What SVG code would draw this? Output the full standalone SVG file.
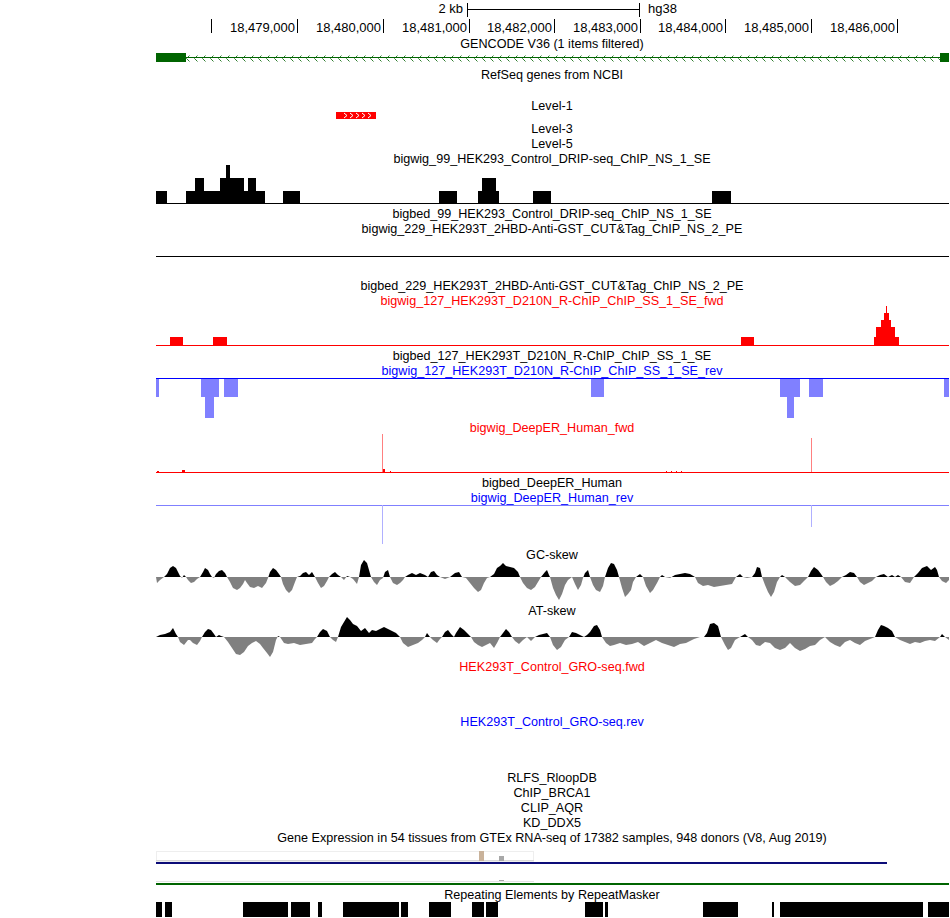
<svg xmlns="http://www.w3.org/2000/svg" width="950" height="918" viewBox="0 0 950 918">
<style>
text{font-family:"Liberation Sans",Arial,Helvetica,sans-serif;font-size:12.6px;fill:#000}
.c{text-anchor:middle}
.r{text-anchor:end}
.num{font-size:13px}
.red{fill:#f00}
.blue{fill:#00f}
.tick{stroke:#000;stroke-width:1}
.blk{fill:#000}
.gry{fill:#808080}
.lb{fill:#8080ff}
</style>
<defs>
<pattern id="chev" x="0" y="0" width="8" height="9" patternUnits="userSpaceOnUse">
<path d="M5.5,1.5 L2.5,4.5 L5.5,7.5" fill="none" stroke="#2e7d2e" stroke-width="1"/>
</pattern>
<clipPath id="gcUp"><rect x="150" y="540" width="800" height="37"/></clipPath>
<clipPath id="gcDn"><rect x="150" y="577" width="800" height="40"/></clipPath>
<clipPath id="atUp"><rect x="150" y="600" width="800" height="37"/></clipPath>
<clipPath id="atDn"><rect x="150" y="637" width="800" height="40"/></clipPath>
<path id="gcCurve" d="M156,577 L157,583 160,580 164,577 167,574 170,568 173,566 176,568 178,572 180,576 182,578 184,575 186,577 188,580 191,583 194,582 197,579 200,577 203,572 205,568 208,570 210,574 212,577 214,578 216,574 219,571 222,570 225,573 227,577 230,582 233,588 237,590 240,588 243,584 245,580 247,583 250,587 254,588 258,586 262,588 266,583 268,578 270,572 273,568 276,570 279,574 281,577 283,584 286,590 289,593 292,590 295,582 297,577 300,576 303,573 306,572 309,575 312,572 315,577 318,583 321,588 324,586 327,581 329,577 332,574 335,572 338,575 341,577 344,580 347,576 350,577 353,579 357,584 359,577 361,565 364,560 367,563 369,570 371,577 374,582 377,585 380,580 383,578 385,572 388,570 390,577 393,583 397,585 400,583 403,580 405,577 408,575 412,573 416,575 420,573 425,575 428,577 431,572 434,571 437,575 440,577 445,579 450,577 455,573 459,572 462,577 466,578 470,583 474,588 478,592 481,590 484,583 487,578 490,577 494,574 497,568 500,566 503,563 506,566 510,567 514,568 518,572 520,577 523,583 527,588 531,590 535,587 538,582 541,577 545,572 547,570 549,575 550,577 553,588 556,595 559,600 562,594 565,585 568,580 572,577 575,584 578,590 581,585 583,578 585,573 588,570 590,577 593,585 596,590 600,592 603,586 605,577 608,568 611,563 614,564 617,570 619,577 622,588 625,597 628,594 631,590 633,582 636,577 640,574 643,577 646,586 650,593 653,590 657,583 660,577 662,575 665,577 670,578 675,575 680,574 685,573 690,574 695,577 698,583 703,586 708,585 714,587 720,586 726,585 732,584 736,577 740,574 743,577 747,578 752,577 755,573 757,567 760,568 762,577 765,585 768,592 771,597 774,592 777,582 780,577 782,575 785,577 790,582 795,586 800,585 805,580 808,577 811,571 814,567 818,570 821,574 823,577 826,582 830,586 834,584 838,581 842,577 846,575 850,572 854,573 857,577 860,582 864,585 868,583 872,581 876,577 880,575 884,574 888,577 892,575 895,577 898,575 901,577 905,582 910,583 914,577 918,573 922,568 927,566 931,570 935,567 937,570 939,577 942,581 946,583 949,580 L949,577 Z"/>
<path id="atCurve" d="M156,637 L160,635 165,634 170,632 173,628 176,634 178,637 180,642 184,645 188,640 190,640 193,643 197,645 200,641 202,637 205,632 208,629 211,630 214,634 216,637 219,635 221,636 224,637 228,642 232,648 236,654 240,655 244,652 248,646 252,643 256,641 260,644 263,648 267,653 270,657 273,652 276,640 278,636 280,637 284,643 288,644 294,643 300,645 306,644 312,643 315,639 317,637 320,632 323,629 327,631 330,637 333,640 336,642 338,637 341,627 344,622 347,617 350,620 353,624 357,626 361,631 365,628 369,633 372,630 376,631 380,629 384,627 388,629 392,631 396,633 400,637 403,643 408,647 413,645 418,643 422,640 425,637 427,633 430,637 433,640 437,643 440,639 442,637 445,632 448,630 451,634 454,637 456,633 460,627 464,630 468,634 471,637 474,642 478,645 482,647 486,645 490,643 494,648 497,643 500,637 503,633 506,629 509,632 512,637 515,641 519,644 523,640 527,637 531,641 535,637 539,635 543,634 547,633 550,637 553,645 557,650 561,647 565,640 569,637 572,632 576,633 580,635 584,637 587,635 590,632 594,626 597,625 600,630 602,637 606,643 610,646 614,645 620,643 626,645 632,644 638,642 644,646 650,643 656,640 662,643 668,645 674,647 680,644 686,643 690,641 694,639 700,637 704,637 707,633 710,624 714,623 718,626 721,637 725,645 728,650 731,648 735,640 740,637 745,634 748,637 752,640 756,645 760,646 765,642 770,643 775,648 780,650 785,648 790,643 795,648 800,651 805,649 810,646 815,645 820,640 825,637 830,642 835,645 840,647 845,642 850,640 855,643 860,645 865,641 870,639 875,637 878,630 881,625 884,626 888,628 892,631 895,637 900,640 905,642 910,644 915,642 920,643 925,641 930,640 935,641 940,637 942,634 945,637 949,640 L949,637 Z"/>
</defs>
<rect width="950" height="918" fill="#fff"/>

<g id="ruler">
<text class="r num" x="463" y="13">2 kb</text>
<path d="M467.5,3 V17 M467.5,9.5 H639.5 M639.5,3 V17" stroke="#000" fill="none"/>
<text class="num" x="648" y="13">hg38</text>
<path class="tick" d="M211.5,19 V33 M297.5,19 V33 M383.5,19 V33 M469.5,19 V33 M554.5,19 V33 M640.5,19 V33 M725.5,19 V33 M811.5,19 V33 M897.5,19 V33"/>
<text class="r num" x="295" y="32">18,479,000</text>
<text class="r num" x="381" y="32">18,480,000</text>
<text class="r num" x="467" y="32">18,481,000</text>
<text class="r num" x="552" y="32">18,482,000</text>
<text class="r num" x="638" y="32">18,483,000</text>
<text class="r num" x="723" y="32">18,484,000</text>
<text class="r num" x="809" y="32">18,485,000</text>
<text class="r num" x="895" y="32">18,486,000</text>
</g>

<g id="gencode">
<text class="c" x="552" y="48">GENCODE V36 (1 items filtered)</text>
<rect x="186" y="53" width="754" height="9" fill="url(#chev)"/>
<rect x="186" y="57" width="754" height="1" fill="#006400"/>
<rect x="156" y="53" width="30" height="9" fill="#006400"/>
<rect x="940" y="53" width="9" height="9" fill="#006400"/>
</g>

<g id="refseq">
<text class="c" x="552" y="79">RefSeq genes from NCBI</text>
</g>

<g id="level1">
<text class="c" x="552" y="110">Level-1</text>
<rect x="336" y="112" width="40" height="7" fill="#f00"/>
<path d="M344,113 L347,115.5 L344,118 M350,113 L353,115.5 L350,118 M356,113 L359,115.5 L356,118 M362,113 L365,115.5 L362,118 M368,113 L371,115.5 L368,118" stroke="#fff" fill="none"/>
</g>

<g id="level3"><text class="c" x="552" y="133">Level-3</text></g>
<g id="level5"><text class="c" x="552" y="148">Level-5</text></g>

<g id="bigwig99">
<text class="c" x="552" y="163">bigwig_99_HEK293_Control_DRIP-seq_ChIP_NS_1_SE</text>
<g class="blk">
<rect x="156" y="191" width="11" height="13"/>
<rect x="186" y="191" width="79" height="13"/>
<rect x="195" y="178" width="9" height="13"/>
<rect x="220" y="178" width="24" height="13"/>
<rect x="226" y="165" width="4" height="13"/>
<rect x="248" y="178" width="8" height="13"/>
<rect x="283" y="191" width="17" height="13"/>
<rect x="439" y="191" width="18" height="13"/>
<rect x="478" y="191" width="21" height="13"/>
<rect x="482" y="178" width="14" height="13"/>
<rect x="533" y="191" width="18" height="13"/>
<rect x="712" y="191" width="19" height="13"/>
<rect x="156" y="203" width="793" height="1"/>
</g>
</g>

<g id="bigbed99"><text class="c" x="552" y="218">bigbed_99_HEK293_Control_DRIP-seq_ChIP_NS_1_SE</text></g>

<g id="bigwig229">
<text class="c" x="552" y="233">bigwig_229_HEK293T_2HBD-Anti-GST_CUT&amp;Tag_ChIP_NS_2_PE</text>
<rect x="156" y="256" width="793" height="1" fill="#000"/>
</g>

<g id="bigbed229"><text class="c" x="552" y="290">bigbed_229_HEK293T_2HBD-Anti-GST_CUT&amp;Tag_ChIP_NS_2_PE</text></g>

<g id="bigwig127fwd">
<text class="c red" x="552" y="305">bigwig_127_HEK293T_D210N_R-ChIP_ChIP_SS_1_SE_fwd</text>
<g fill="#f00">
<rect x="170" y="337" width="13" height="9"/>
<rect x="213" y="337" width="14" height="9"/>
<rect x="741" y="337" width="13" height="9"/>
<path d="M874,346 V337 H876 V327 H881 V320 H884 V313 H886 V306 H887 V313 H889 V320 H891 V327 H895 V337 H899 V346 Z"/>
<rect x="156" y="345" width="793" height="1"/>
</g>
</g>

<g id="bigbed127"><text class="c" x="552" y="360">bigbed_127_HEK293T_D210N_R-ChIP_ChIP_SS_1_SE</text></g>

<g id="bigwig127rev">
<text class="c blue" x="552" y="375">bigwig_127_HEK293T_D210N_R-ChIP_ChIP_SS_1_SE_rev</text>
<g class="lb">
<rect x="156" y="378" width="3" height="19"/>
<rect x="201" y="378" width="18" height="19"/>
<rect x="205" y="378" width="9" height="40"/>
<rect x="224" y="378" width="14" height="19"/>
<rect x="591" y="378" width="13" height="19"/>
<rect x="780" y="378" width="20" height="19"/>
<rect x="787" y="378" width="7" height="40"/>
<rect x="809" y="378" width="14" height="19"/>
<rect x="944" y="378" width="5" height="19"/>
</g>
<rect x="156" y="378" width="793" height="1" fill="#00f"/>
</g>

<g id="deeperfwd">
<text class="c red" x="552" y="432">bigwig_DeepER_Human_fwd</text>
<rect x="382" y="434" width="1" height="39" fill="#ff8080"/>
<rect x="811" y="438" width="1" height="35" fill="#ff8080"/>
<g fill="#f00">
<rect x="157" y="471" width="2" height="2"/>
<rect x="182" y="470" width="3" height="3"/>
<rect x="383" y="469" width="2" height="4"/>
<rect x="390" y="471" width="1" height="2"/>
<rect x="666" y="471" width="1" height="2"/>
<rect x="671" y="471" width="1" height="2"/>
<rect x="676" y="471" width="1" height="2"/>
<rect x="681" y="471" width="1" height="2"/>
<rect x="156" y="472" width="793" height="1"/>
</g>
</g>

<g id="bigbeddeeper"><text class="c" x="552" y="487">bigbed_DeepER_Human</text></g>

<g id="deeperrev">
<text class="c blue" x="552" y="502">bigwig_DeepER_Human_rev</text>
<rect x="156" y="505" width="793" height="1" fill="#8080ff"/>
<rect x="382" y="505" width="1" height="39" fill="#b0b0ff"/>
<rect x="811" y="505" width="1" height="22" fill="#b0b0ff"/>
</g>

<g id="gcskew">
<text class="c" x="552" y="559">GC-skew</text>
<use href="#gcCurve" class="blk" clip-path="url(#gcUp)"/>
<use href="#gcCurve" class="gry" clip-path="url(#gcDn)"/>
</g>

<g id="atskew">
<text class="c" x="552" y="615">AT-skew</text>
<use href="#atCurve" class="blk" clip-path="url(#atUp)"/>
<use href="#atCurve" class="gry" clip-path="url(#atDn)"/>
</g>

<g id="grofwd"><text class="c red" x="552" y="671">HEK293T_Control_GRO-seq.fwd</text></g>
<g id="grorev"><text class="c blue" x="552" y="726">HEK293T_Control_GRO-seq.rev</text></g>

<g id="rlfs"><text class="c" x="552" y="782">RLFS_RloopDB</text></g>
<g id="brca1"><text class="c" x="552" y="797">ChIP_BRCA1</text></g>
<g id="aqr"><text class="c" x="552" y="812">CLIP_AQR</text></g>
<g id="ddx5"><text class="c" x="552" y="827">KD_DDX5</text></g>

<g id="gtex">
<text class="c" x="552" y="842">Gene Expression in 54 tissues from GTEx RNA-seq of 17382 samples, 948 donors (V8, Aug 2019)</text>
<rect x="156.5" y="851.5" width="377" height="10" fill="none" stroke="#eeeeee"/>
<rect x="156" y="860" width="378" height="1" fill="#d8d8d8"/>
<rect x="479" y="851" width="5" height="10" fill="#c9b29a"/>
<rect x="499" y="856" width="5" height="5" fill="#a8a8a8"/>
<rect x="156" y="862" width="731" height="2" fill="#0c0c78"/>
<rect x="156" y="881" width="378" height="1" fill="#e4e4e4"/>
<rect x="499" y="880" width="5" height="1" fill="#a8a8a8"/>
<rect x="156" y="883" width="793" height="2" fill="#006400"/>
</g>

<g id="repeatmasker">
<text class="c" x="552" y="899">Repeating Elements by RepeatMasker</text>
<g class="blk">
<rect x="156" y="902" width="6" height="15"/>
<rect x="165" y="902" width="7" height="15"/>
<rect x="243" y="902" width="45" height="15"/>
<rect x="291" y="902" width="19" height="15"/>
<rect x="318" y="902" width="4" height="15"/>
<rect x="343" y="902" width="56" height="15"/>
<rect x="401" y="902" width="7" height="15"/>
<rect x="429" y="902" width="22" height="15"/>
<rect x="472" y="902" width="12" height="15"/>
<rect x="486" y="902" width="12" height="15"/>
<rect x="585" y="902" width="18" height="15"/>
<rect x="605" y="902" width="3" height="15"/>
<rect x="703" y="902" width="35" height="15"/>
<rect x="772" y="902" width="2" height="15"/>
<rect x="780" y="902" width="143" height="15"/>
<rect x="928" y="902" width="21" height="15"/>
</g>
</g>
</svg>
